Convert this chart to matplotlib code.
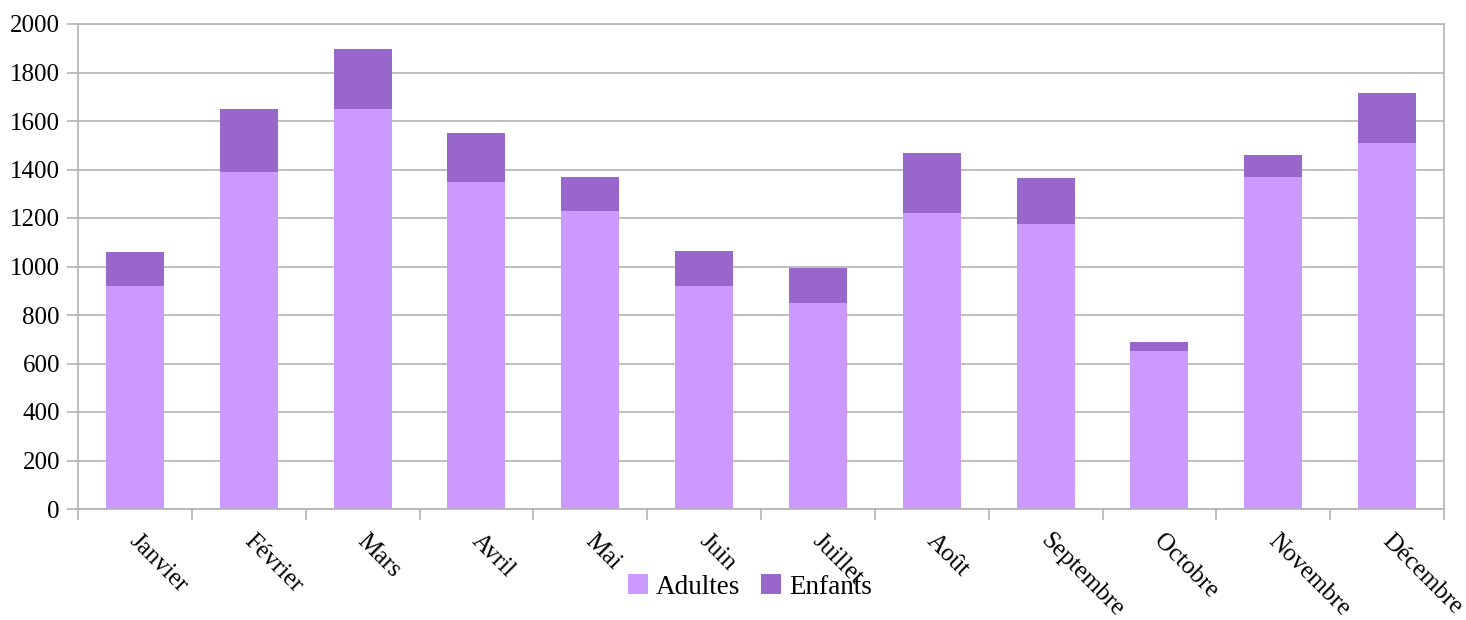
import matplotlib.pyplot as plt
import matplotlib.transforms as mtransforms
import numpy as np

mois = ["Janvier", "Février", "Mars", "Avril", "Mai", "Juin", "Juillet",
        "Août", "Septembre", "Octobre", "Novembre", "Décembre"]
adultes = [920, 1390, 1650, 1350, 1230, 920, 850, 1220, 1175, 650, 1370, 1510]
enfants = [140, 260, 245, 200, 140, 145, 145, 250, 190, 40, 90, 205]

col_adultes = "#CC99FF"
col_enfants = "#9966CC"
gris = "#b3b3b3"

plt.rcParams["font.family"] = ["Liberation Serif", "DejaVu Serif"]

fig = plt.figure(figsize=(14.66, 6.2), dpi=100)
ax = fig.add_axes([78 / 1466, 1 - 509 / 620, (1444 - 78) / 1466, (509 - 24) / 620])

x = np.arange(len(mois))
ax.bar(x, adultes, width=0.51, color=col_adultes, label="Adultes", zorder=2)
ax.bar(x, enfants, width=0.51, bottom=adultes, color=col_enfants, label="Enfants", zorder=2)

ax.set_xlim(-0.5, len(mois) - 0.5)
ax.set_ylim(0, 2000)
ax.set_yticks(range(0, 2001, 200))
ax.yaxis.grid(True, color=gris, linewidth=1.2, zorder=0)
ax.set_axisbelow(True)

# category labels on major ticks, tick marks on boundaries
ax.set_xticks(x)
ax.set_xticklabels(mois, rotation=-45, ha="left", rotation_mode="anchor")
ax.set_xticks(np.arange(-0.5, len(mois), 1.0), minor=True)
ax.tick_params(axis="x", which="major", length=0, pad=15, labelsize=18)
ax.tick_params(axis="x", which="minor", length=8, color=gris, width=1.2)
ax.tick_params(axis="y", length=8, color=gris, width=1.2, pad=5, labelsize=18)

# nudge month labels a little to the right
shift = mtransforms.ScaledTranslation(6 / 100, 0, fig.dpi_scale_trans)
for lab in ax.get_xticklabels():
    lab.set_transform(lab.get_transform() + shift)

for s in ax.spines.values():
    s.set_color(gris)
    s.set_linewidth(1.2)

fig.legend(loc="center", bbox_to_anchor=(750 / 1466, 1 - 587 / 620), ncol=2,
           frameon=False, fontsize=19.5, handlelength=0.75, handleheight=0.75,
           handletextpad=0.3, columnspacing=0.75)

fig.savefig("out.png", dpi=100)
